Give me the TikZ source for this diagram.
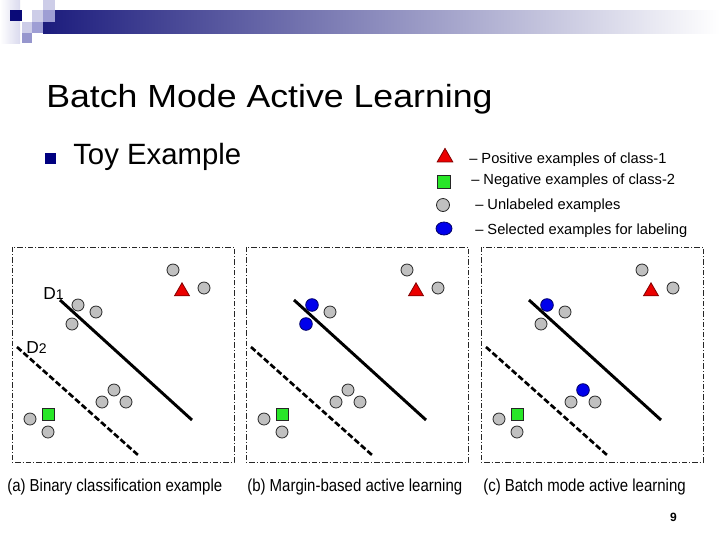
\documentclass[tikz,border=0pt]{standalone}
\usepackage{fontspec}
\setmainfont{Liberation Sans}
\usetikzlibrary{shapes.geometric}
\definecolor{navybar}{RGB}{28,28,125}
\definecolor{midbar}{RGB}{165,165,185}
\definecolor{navysq}{RGB}{10,10,120}
\definecolor{lav1}{RGB}{205,205,232}
\definecolor{lav2}{RGB}{158,158,212}
\definecolor{lav3}{RGB}{150,150,205}
\definecolor{lav0}{RGB}{218,218,238}
\definecolor{bulletnavy}{RGB}{0,0,128}
\definecolor{ptgray}{RGB}{192,192,192}
\definecolor{ptred}{RGB}{235,0,0}
\definecolor{ptgreen}{RGB}{40,230,40}
\definecolor{ptblue}{RGB}{0,0,235}
\tikzset{
  unlpt/.style={circle, draw=black!85, fill=ptgray, line width=0.6pt, minimum size=9pt, inner sep=0pt},
  selpt/.style={circle, draw=black!60!blue, fill=ptblue, line width=0.6pt, minimum size=9.5pt, inner sep=0pt},
  pospt/.style={regular polygon, regular polygon sides=3, draw=black!50!red, fill=ptred, line width=0.6pt, minimum size=13pt, inner sep=0pt},
  negpt/.style={rectangle, draw=black!85, fill=ptgreen, line width=0.6pt, minimum size=9pt, inner sep=0pt},
  panelbox/.style={draw=black!85, line width=0.6pt, dash pattern=on 4pt off 1.5pt on 0.8pt off 1.5pt},
  sepsolid/.style={line width=2.2pt},
  sepdash/.style={line width=2pt, dash pattern=on 4.5pt off 2pt},
  legtext/.style={anchor=base west, inner sep=0pt, font=\fontsize{11pt}{13pt}\selectfont},
  captext/.style={anchor=base west, inner sep=0pt, font=\fontsize{13pt}{15pt}\selectfont},
  dlabel/.style={anchor=base west, inner sep=0pt, font=\fontsize{13pt}{15pt}\selectfont}
}
\newcommand\mypanel[5]{%
\begin{scope}[shift={(#2,0)}]
  \draw[panelbox] (12,247) rectangle (234,462);
  \coordinate (#1s1) at (60,300);
  \coordinate (#1s2) at (192,420);
  \coordinate (#1d1) at (17,347);
  \coordinate (#1d2) at (138,455);
  \draw[sepsolid] (#1s1) -- (#1s2);
  \draw[sepdash] (#1d1) -- (#1d2);
  \node[unlpt] (#1t1) at (173,270) {};
  \node[pospt] (#1tri) at (182,291.5) {};
  \node[unlpt] (#1t2) at (204,288) {};
  \node[#3] (#1u1) at (78,305) {};
  \node[unlpt] (#1u2) at (96,312) {};
  \node[#4] (#1u3) at (72,324) {};
  \node[#5] (#1m1) at (114,390) {};
  \node[unlpt] (#1m2) at (102,402) {};
  \node[unlpt] (#1m3) at (126,402) {};
  \node[negpt] (#1sq) at (48,414) {};
  \node[unlpt] (#1g1) at (30,419) {};
  \node[unlpt] (#1g2) at (48,432) {};
\end{scope}}
\begin{document}
\begin{tikzpicture}[x=0.75pt,y=-0.75pt]
\useasboundingbox (0,0) rectangle (720,540);
\fill[white] (0,0) rectangle (720,540);
% header decoration
\shade[left color=white, right color=lav0] (0,0) rectangle (20,43);
\shade[left color=navybar, middle color=midbar, right color=white] (43,10) rectangle (720,33);
\fill[navysq] (10,10) rectangle (22,21);
\fill[lav1] (32,10) rectangle (43,22);
\fill[lav1] (43,0) rectangle (55,10);
\fill[lav2] (43,10) rectangle (55,22);
\fill[lav1] (22,22) rectangle (32,33);
\fill[lav2] (32,22) rectangle (43,33);
\fill[lav3] (22,33) rectangle (32,43);
% title
\node[anchor=base west, inner sep=0pt, font=\fontsize{24pt}{28pt}\selectfont] (title) at (46,107) {\scalebox{1.115}[1]{Batch Mode Active Learning}};
\fill[bulletnavy] (45,153) rectangle (56,164);
\node[anchor=base west, inner sep=0pt, font=\fontsize{22pt}{26pt}\selectfont] (toy) at (73,164) {Toy Example};
% legend
\node[pospt, minimum size=13.5pt] (lpos) at (445,157.4) {};
\node[negpt, minimum size=9.75pt] (lneg) at (444,182) {};
\node[unlpt, minimum size=9.75pt] (lunl) at (443,205) {};
\node[ellipse, draw=black!60!blue, fill=ptblue, line width=0.6pt, minimum width=12pt, minimum height=9.75pt, inner sep=0pt] (lsel) at (444,228.5) {};
\node[legtext] (tpos) at (469,163) {– Positive examples of class-1};
\node[legtext] (tneg) at (471,184) {– Negative examples of class-2};
\node[legtext] (tunl) at (475,209) {– Unlabeled examples};
\node[legtext] (tsel) at (475,234) {– Selected examples for labeling};
% panels
\mypanel{a}{0}{unlpt}{unlpt}{unlpt}
\mypanel{b}{234}{selpt}{selpt}{unlpt}
\mypanel{c}{469}{selpt}{unlpt}{selpt}
\node[dlabel] (dA) at (43,299) {D{\fontsize{10.5pt}{12pt}\selectfont 1}};
\node[dlabel] (dB) at (26,353) {D{\fontsize{10.5pt}{12pt}\selectfont 2}};
% captions
\node[captext] (capa) at (7,491) {\scalebox{0.865}[1]{(a) Binary classification example}};
\node[captext] (capb) at (247,491) {\scalebox{0.865}[1]{(b) Margin-based active learning}};
\node[captext] (capc) at (483,491) {\scalebox{0.865}[1]{(c) Batch mode active learning}};
\node[anchor=base, inner sep=0pt, font=\fontsize{9pt}{10pt}\selectfont\bfseries] (pnum) at (673.5,521) {9};
\end{tikzpicture}
\end{document}
